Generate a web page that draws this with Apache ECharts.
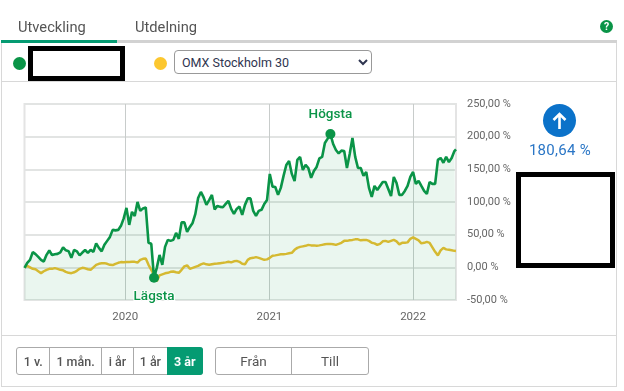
<!DOCTYPE html>
<html>
<head>
<meta charset="utf-8">
<script src="https://cdn.jsdelivr.net/npm/echarts@6/dist/echarts.min.js"></script>
<style>
  html, body { margin: 0; padding: 0; background: #fff; }
  body { width: 624px; height: 391px; position: relative; overflow: hidden; font-family: Roboto, sans-serif; color: #444; }
  #chart { position: absolute; left: 0; top: 0; width: 624px; height: 391px; }
  .abs { position: absolute; box-sizing: border-box; }
  .tab { font-size: 14.7px; color: #555; top: 18px; line-height: 18px; }
  .dot { width: 13px; height: 13px; border-radius: 50%; }
  .mask { border: 5px solid #000; background: #fff; }
  .btns { display: flex; top: 347px; height: 28px; border: 1px solid #aaa; border-radius: 3px; font-size: 12.5px; font-weight: 500; color: #555; }
  .btns div { display: flex; align-items: center; justify-content: center; border-right: 1px solid #aaa; }
  .btns div:last-child { border-right: 0; }
  .btns .on { background: #059b72; color: #fff; border-radius: 0 3px 3px 0; margin: -1px -1px -1px 0; font-weight: 700; }
  select { font-family: Roboto, sans-serif; font-size: 12.5px; color: #2f3550; background: #fff; border: 1px solid #999; border-radius: 4px; padding-left: 3px; }
</style>
</head>
<body>
<div id="chart"></div>

<div class="abs tab" style="left:18px">Utveckling</div>
<div class="abs tab" style="left:135px">Utdelning</div>
<div class="abs" style="left:1px;top:40px;width:616px;height:3px;background:#d2d2d2"></div>
<div class="abs" style="left:1px;top:40px;width:116px;height:3px;background:#059b72"></div>
<div class="abs" style="left:600px;top:20px;width:13px;height:13px;border-radius:50%;background:#0a9447;color:#fff;font-size:10.5px;font-weight:700;text-align:center;line-height:13px">?</div>

<div class="abs" style="left:1px;top:43px;width:616px;height:344px;border:1px solid #d8d8d8;border-top:0"></div>
<div class="abs" style="left:2px;top:81px;width:614px;height:1px;background:#d8d8d8"></div>
<div class="abs" style="left:2px;top:335px;width:614px;height:1px;background:#d8d8d8"></div>

<div class="abs dot" style="left:13px;top:57px;background:#0a9447"></div>
<div class="abs mask" style="left:28px;top:46px;width:97px;height:35px"></div>
<div class="abs dot" style="left:154px;top:57px;background:#fcc72f"></div>
<select class="abs" style="left:174px;top:50px;width:198px;height:24px"><option>OMX Stockholm 30</option></select>

<div class="abs" style="left:543px;top:104px;width:33px;height:33px;border-radius:50%;background:#0b72c9">
  <svg width="33" height="33" viewBox="0 0 33 33"><path d="M16.5 25 V10 M10.5 16 L16.5 10 L22.5 16" stroke="#fff" stroke-width="2.6" fill="none"/></svg>
</div>
<div class="abs" style="left:510px;top:141px;width:100px;text-align:center;font-size:15px;font-weight:400;color:#2a76c6;letter-spacing:0.3px">180,64 %</div>
<div class="abs mask" style="left:516px;top:172px;width:99px;height:96px"></div>

<div class="abs btns" style="left:16px;width:187px">
  <div style="width:33px">1 v.</div>
  <div style="width:51px">1 mån.</div>
  <div style="width:32px">i år</div>
  <div style="width:33px;border-right:0">1 år</div>
  <div class="on" style="width:37px">3 år</div>
</div>
<div class="abs btns" style="left:215px;width:154px;font-size:13.5px;font-weight:400">
  <div style="width:76px">Från</div>
  <div style="width:77px">Till</div>
</div>

<script>
const dates = [
  '2019-04-20','2019-04-27','2019-05-04','2019-05-11','2019-05-18','2019-05-25','2019-06-01','2019-06-08','2019-06-15','2019-06-22',
  '2019-06-29','2019-07-06','2019-07-13','2019-07-20','2019-07-27','2019-08-03','2019-08-10','2019-08-17','2019-08-24','2019-08-31',
  '2019-09-07','2019-09-14','2019-09-21','2019-09-28','2019-10-05','2019-10-12','2019-10-19','2019-10-26','2019-11-02','2019-11-09',
  '2019-11-16','2019-11-23','2019-11-30','2019-12-07','2019-12-14','2019-12-21','2019-12-28',
  '2020-01-04','2020-01-11','2020-01-18','2020-01-25','2020-02-01','2020-02-08','2020-02-15','2020-02-22','2020-02-29','2020-03-07',
  '2020-03-14','2020-03-21','2020-03-28','2020-04-04','2020-04-11','2020-04-18','2020-04-25','2020-05-02','2020-05-09','2020-05-16',
  '2020-05-23','2020-05-30','2020-06-06','2020-06-13','2020-06-20','2020-06-27','2020-07-04','2020-07-11','2020-07-18','2020-07-25',
  '2020-08-01','2020-08-08','2020-08-15','2020-08-22','2020-08-29','2020-09-05','2020-09-12','2020-09-19','2020-09-26','2020-10-03',
  '2020-10-10','2020-10-17','2020-10-24','2020-10-31','2020-11-07','2020-11-14','2020-11-21','2020-11-28','2020-12-05','2020-12-12',
  '2020-12-19','2020-12-26',
  '2021-01-02','2021-01-09','2021-01-16','2021-01-23','2021-01-30','2021-02-06','2021-02-13','2021-02-20','2021-02-27','2021-03-06',
  '2021-03-13','2021-03-20','2021-03-27','2021-04-03','2021-04-10','2021-04-17','2021-04-24','2021-05-01','2021-05-08','2021-05-15',
  '2021-05-22','2021-05-29','2021-06-05','2021-06-12','2021-06-19','2021-06-26','2021-07-03','2021-07-10','2021-07-17','2021-07-24',
  '2021-07-31','2021-08-07','2021-08-14','2021-08-21','2021-08-28','2021-09-04','2021-09-11','2021-09-18','2021-09-25','2021-10-02',
  '2021-10-09','2021-10-16','2021-10-23','2021-10-30','2021-11-06','2021-11-13','2021-11-20','2021-11-27','2021-12-04','2021-12-11',
  '2021-12-18','2021-12-25',
  '2022-01-01','2022-01-08','2022-01-15','2022-01-22','2022-01-29','2022-02-05','2022-02-12','2022-02-19','2022-02-26','2022-03-05',
  '2022-03-12','2022-03-19','2022-03-26','2022-04-02','2022-04-09','2022-04-16','2022-04-20',
];
const stockValues = [
  -1,6.9,11.5,23.2,20.2,16,11.5,8.9,19.1,25.7,18.7,19.9,20.6,22.9,30.6,26,24.8,14.5,26.8,24.5,
  18.3,22.6,26.5,22.2,26.8,23.7,36.7,29.8,24.5,34.4,40.5,46.6,57.3,56.6,57.3,63.5,74.9,91,65,84.9,
  78.7,100,86.4,90.2,91.7,37.5,36,-16,-0.8,19,3.8,31.3,42,40.5,42,52.7,43.6,68.8,68.8,54.3,
  61.9,68,81.8,106,115.4,107,95.6,103,110.9,88.7,94,92.5,92,97,101.7,89.4,81.8,89.4,93,80.3,
  95.6,105.5,105.5,86.4,78.7,86.4,88,97,103,143,123.5,123,110.9,121.6,140,156.7,162.8,143,132,164.4,
  169,149,156.7,152,137,147.5,153.7,166.7,169,190.4,197,204,188.8,179.7,174.3,178.6,178,152,173.5,198,
  169,152,152,140,146,121.6,107.8,124.6,118.5,124.6,130.7,130.7,120,109,138.4,129,110.9,110.9,117,124.6,
  138.4,146,127.7,132.3,124.6,117,112.4,130.7,127.7,127.7,164.4,167.4,160,169,161,167.4,178,180.64,
];
const indexValues = [
  0,2.3,0,-2.3,-3,-6,-8.9,-6,-3.8,-2.3,-2.3,-1.2,-2.3,-3.8,-4.6,-6.9,-8.4,-8.9,-7.6,-5.4,
  -2.3,-0.8,-1.5,-3,-3.8,0,3.8,5.4,6.1,6.4,5.4,3.8,3.4,5.4,6.9,8,7.6,8,8,8.4,
  8.4,7.3,11.5,13,13.5,3.8,-3.8,-11.5,-21.4,-12.2,-10.7,-9.2,-8.4,-6.9,-6.4,-7.6,-8.4,-3.8,1.5,3.1,
  -2.3,-0.8,0.8,2.3,4.6,6.1,4.6,3.8,4.6,5.4,5.8,6.4,6.9,7.6,8.4,7.6,9.2,9.9,8.4,5.4,
  4.6,11.5,14,14.5,15.6,14.5,13,11.5,12.2,14.5,17.6,18.3,19.1,19.9,19.9,20.6,21.4,22.2,26.8,29.8,
  31.3,32.1,32.9,34.4,33.6,33.6,32.9,33.6,34.4,35.2,35.9,35.9,35.2,34.4,35.9,37.5,40.5,40.5,41.3,42,
  42.8,42.8,41.3,42,42,40.5,37.5,36.7,34.4,35.9,39.8,40.5,39,40.5,42,39.8,35.2,37.5,37.5,38.2,
  43.6,45.9,43.6,41.3,36.7,37.5,39,37.5,30.6,23.7,18.3,26,29.8,27.5,26.8,26,25.2,25,
];
const yearTicks = ['2020-01-01', '2021-01-01', '2022-01-01'];
const GREEN = '#0a9447';
const YELLOW = '#e8bd30';

// time axis can't take customValues in v6, so the x axis is a value axis over timestamps
const pairs = (values) => values.map((v, i) => [Date.parse(dates[i]), v]);
const yearTickValues = yearTicks.map((d) => Date.parse(d));
const labelStyle = { color: GREEN, fontFamily: 'Roboto', fontSize: 13.5, fontWeight: 500, textBorderColor: '#fff', textBorderWidth: 2 };
const highIdx = stockValues.indexOf(Math.max(...stockValues));
const lowIdx = stockValues.indexOf(Math.min(...stockValues));

const chart = echarts.init(document.getElementById('chart'), null, { renderer: 'canvas' });
chart.setOption({
  animation: false,
  grid: { left: 24.5, right: 168, top: 104, bottom: 91, show: true, borderColor: '#e4e4e4', borderWidth: 2, backgroundColor: 'transparent' },
  xAxis: {
    type: 'value',
    min: Date.parse('2019-04-20'),
    max: Date.parse('2022-04-20'),
    axisLine: { show: false },
    axisTick: { show: false, customValues: yearTickValues },
    splitLine: { show: true, lineStyle: { color: '#c8cccb', width: 1 } },
    axisLabel: {
      customValues: yearTickValues,
      formatter: (v) => String(new Date(v).getUTCFullYear()),
      color: '#666', fontFamily: 'Roboto', fontSize: 11.5, margin: 11,
    },
  },
  yAxis: {
    type: 'value',
    position: 'right',
    min: -50,
    max: 250,
    interval: 50,
    axisLine: { show: false },
    axisTick: { show: false },
    splitLine: { show: true, lineStyle: { color: '#e2e4e3', width: 2 } },
    axisLabel: {
      formatter: (v) => v.toFixed(2).replace('.', ',') + ' %',
      color: '#666', fontFamily: 'Roboto', fontSize: 11, margin: 11, padding: [2, 0, 0, 0],
    },
  },
  series: [
    {
      name: 'OMX Stockholm 30',
      type: 'line',
      data: pairs(indexValues),
      showSymbol: false,
      z: 2,
      lineStyle: { color: YELLOW, width: 2.5 },
    },
    {
      name: 'Utveckling',
      type: 'line',
      data: pairs(stockValues),
      showSymbol: false,
      z: 3,
      lineStyle: { color: GREEN, width: 2.6 },
      areaStyle: { color: 'rgba(10,148,71,0.12)', origin: 'start' },
      markPoint: {
        symbol: 'circle',
        symbolSize: 10,
        itemStyle: { color: GREEN },
        data: [
          { coord: [Date.parse(dates[highIdx]), stockValues[highIdx]], label: { show: true, formatter: 'Högsta', position: 'top', distance: 7, ...labelStyle } },
          { coord: [Date.parse(dates[lowIdx]), stockValues[lowIdx]], label: { show: true, formatter: 'Lägsta', position: 'bottom', distance: 7, ...labelStyle } },
        ],
      },
    },
  ],
});
</script>
</body>
</html>
